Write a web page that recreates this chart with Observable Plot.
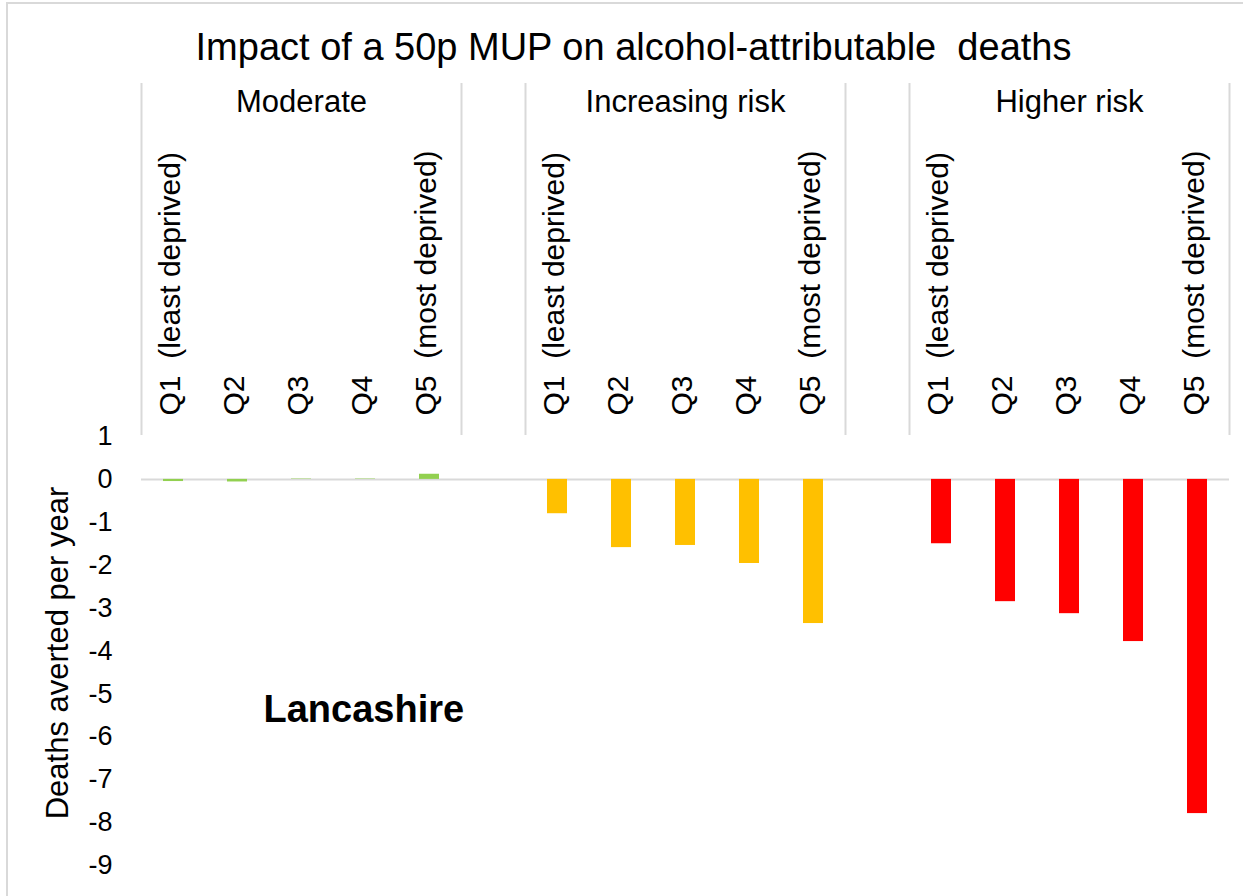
<!DOCTYPE html>
<html><head><meta charset="utf-8">
<script src="https://cdn.jsdelivr.net/npm/d3@7"></script>
<script src="https://cdn.jsdelivr.net/npm/@observablehq/plot@0.6"></script>
<style>
html,body{margin:0;padding:0;background:#fff;overflow:hidden;}
#chart{position:relative;width:1243px;height:896px;}
#chart svg{position:absolute;left:0;top:0;}
#border{position:absolute;left:6px;top:2px;width:1300px;height:1000px;border:2px solid #d9d9d9;box-sizing:border-box;pointer-events:none;}
svg text{white-space:pre;}
</style></head><body>
<div id="chart"><div id="border"></div></div>
<script>
// ---- data ----
const title = "Impact of a 50p MUP on alcohol-attributable  deaths";
const yLabel = "Deaths averted per year";
const areaLabel = "Lancashire";
const groups = ["Moderate", "Increasing risk", "Higher risk"];
const quintiles = ["Q1  (least deprived)", "Q2", "Q3", "Q4", "Q5  (most deprived)"];
const moderate = [-0.05, -0.06, 0.01, 0.01, 0.12];
const increasingRisk = [-0.80, -1.59, -1.54, -1.96, -3.36];
const higherRisk = [-1.50, -2.85, -3.13, -3.78, -7.79];
const groupColors = ["#92d050", "#ffc000", "#ff0000"];
const yTicks = [1, 0, -1, -2, -3, -4, -5, -6, -7, -8, -9];

// ---- build table ----
const series = [moderate, increasingRisk, higherRisk];
const rows = [];
const xDomain = [];
groups.forEach((g, gi) => {
  if (gi > 0) xDomain.push("gap" + gi);
  quintiles.forEach((q, qi) => {
    const key = g + "|" + q;
    xDomain.push(key);
    rows.push({key, group: g, quintile: q, value: series[gi][qi]});
  });
});
const leftEdges = groups.map(g => g + "|" + quintiles[0]);
const rightEdges = groups.map(g => g + "|" + quintiles[quintiles.length - 1]);
const groupMid = groups.map(g => ({key: g + "|" + quintiles[2], group: g}));

const W = 1243, H = 896, mL = 141, mR = 14, mT = 436, mB = 31;
const step = (W - mL - mR) / xDomain.length;
const font = "'Liberation Sans', Arial, sans-serif";

const plot = Plot.plot({
  width: W, height: H,
  marginLeft: mL, marginRight: mR, marginTop: mT, marginBottom: mB,
  style: {fontFamily: font, fontSize: "27px", color: "#000", background: "transparent", overflow: "visible"},
  x: {domain: xDomain, axis: null, paddingInner: 0.6875, paddingOuter: 0.34375},
  y: {domain: [-9, 1], ticks: yTicks, tickSize: 0, tickPadding: 29, label: null, tickFormat: d => d < 0 ? "-" + Math.abs(d) : String(d)},
  color: {domain: groups, range: groupColors},
  marks: [
    Plot.ruleY([0], {stroke: "#d9d9d9", strokeWidth: 2}),
    Plot.barY(rows, {x: "key", y: "value", fill: "group"}),
    // separators
    Plot.ruleX(leftEdges, {x: d => d, dx: -step / 2, stroke: "#d9d9d9", strokeWidth: 2, insetTop: -353, insetBottom: 430}),
    Plot.ruleX(rightEdges, {x: d => d, dx: step / 2, stroke: "#d9d9d9", strokeWidth: 2, insetTop: -353, insetBottom: 430}),
    // category labels
    Plot.text(rows, {x: "key", text: "quintile", frameAnchor: "top", rotate: -90, textAnchor: "start", lineAnchor: "middle", dx: -3, dy: -21, fontSize: 30, fill: "#000"}),
    // group labels
    Plot.text(groupMid, {x: "key", text: "group", frameAnchor: "top", lineAnchor: "middle", dy: -334, fontSize: 31, fill: "#000"}),
    // title
    Plot.text([title], {text: d => d, frameAnchor: "top", lineAnchor: "middle", dx: -52, dy: -389, fontSize: 38, fill: "#000"}),
    // y label
    Plot.text([yLabel], {text: d => d, frameAnchor: "left", rotate: -90, textAnchor: "middle", lineAnchor: "middle", dx: -83, dy: 2, fontSize: 31, fill: "#000"}),
    // area label
    Plot.text([areaLabel], {text: d => d, frameAnchor: "top-left", textAnchor: "start", lineAnchor: "middle", dx: 122, dy: 273, fontSize: 38, fontWeight: "bold", fill: "#000"})
  ]
});
document.getElementById("chart").prepend(plot);
</script>
</body></html>
